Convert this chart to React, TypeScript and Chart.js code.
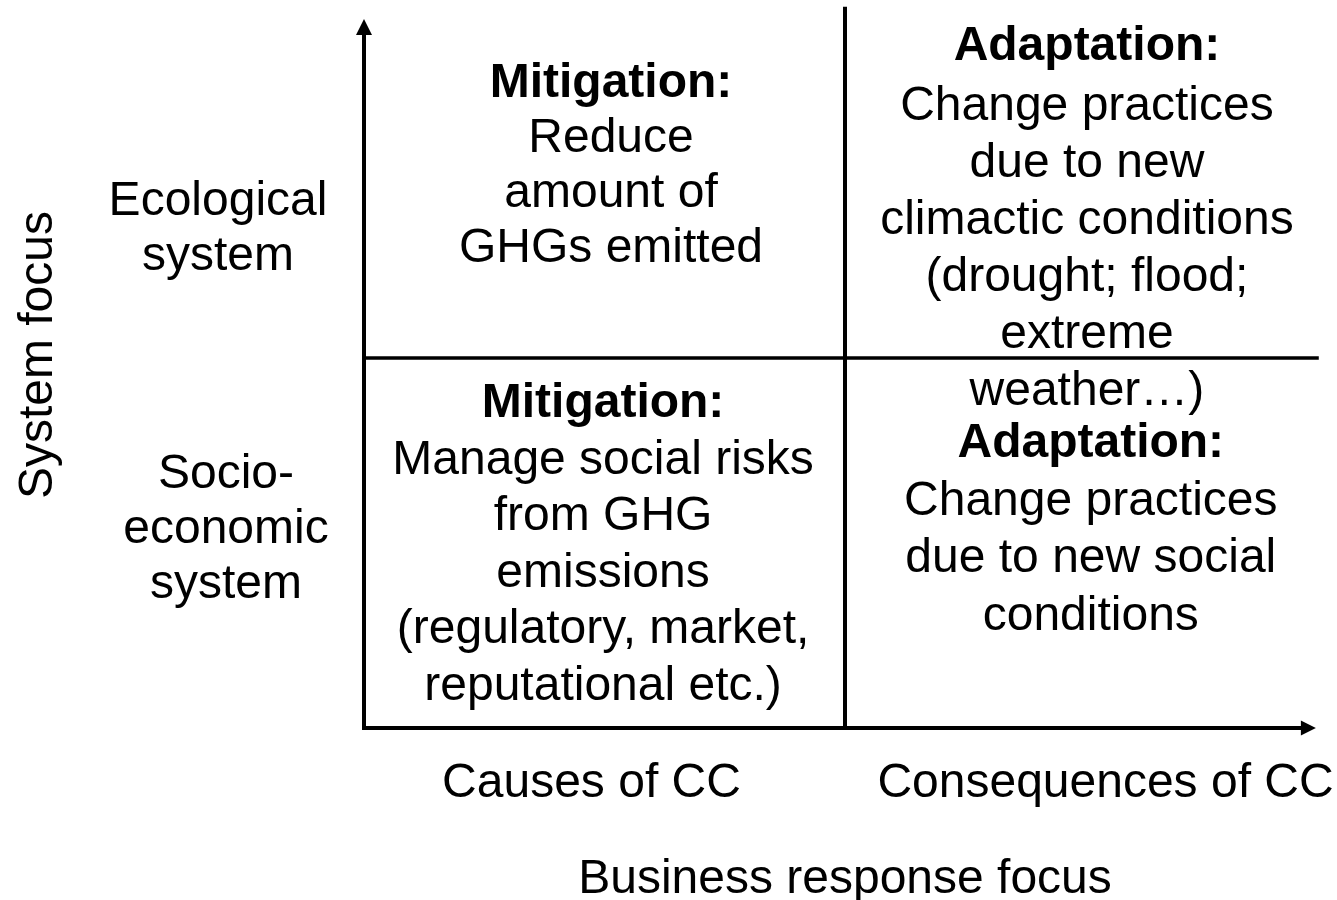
import React, { useEffect, useRef } from "react";
import { Chart, registerables } from "chart.js";

Chart.register(...registerables);

const W = 1337;
const H = 900;

// ---- content ----
const xCategories = ["Causes of CC", "Consequences of CC"];
const yCategories = [
  ["Ecological", "system"],
  ["Socio-", "economic", "system"],
];
const quadrantTitles = ["Mitigation:", "Adaptation:", "Mitigation:", "Adaptation:"];
const quadrantTopLeft = ["Reduce", "amount of", "GHGs emitted"];
const quadrantTopRight = [
  "Change practices",
  "due to new",
  "climactic conditions",
  "(drought; flood;",
  "extreme",
  "weather\u2026)",
];
const quadrantBottomLeft = [
  "Manage social risks",
  "from GHG",
  "emissions",
  "(regulatory, market,",
  "reputational etc.)",
];
const quadrantBottomRight = ["Change practices", "due to new social", "conditions"];
const quadrantBodies = [quadrantTopLeft, quadrantTopRight, quadrantBottomLeft, quadrantBottomRight];
const xAxisTitle = "Business response focus";
const yAxisTitle = "System focus";

// ---- structure (data units: x 0..2 response focus, y 0..2 system focus) ----
const axisPath = [
  { x: 0, y: 1.873 },
  { x: 0, y: 0 },
  { x: 1.95, y: 0 },
];
const verticalDivider = [
  { x: 1, y: 0 },
  { x: 1, y: 1.949 },
];
const horizontalDivider = [
  { x: 0, y: 1 },
  { x: 1.985, y: 1 },
];
const arrowTips = [
  { x: 0, y: 1.916, dir: "up" },
  { x: 1.979, y: 0, dir: "right" },
];

// ---- layout (anchors in data units: first-line baseline; gap = title-to-body px) ----
const quadrantAnchors = [
  { x: 0.5135, y: 1.705, gap: 55, lh: 55 },
  { x: 1.503, y: 1.805, gap: 60, lh: 57 },
  { x: 0.497, y: 0.8405, gap: 56.6, lh: 56.6 },
  { x: 1.511, y: 0.732, gap: 58, lh: 57.3 },
];
const yCategoryAnchors = [
  { x: -0.3035, y: 1.386, lh: 55 },
  { x: -0.287, y: 0.6486, lh: 55 },
];
const xCategoryAnchors = [
  { x: 0.473, y: -0.1865 },
  { x: 1.5416, y: -0.1865 },
];
const xTitleAnchor = { x: 1.0, y: -0.446 };
const yTitleAnchor = { x: -0.649, y: 1.008 };

const FONT = '"Liberation Sans", Arial, Helvetica, sans-serif';
const FS = 48;

const textPlugin = {
  id: "diagramText",
  afterDatasetsDraw(chart: any) {
    const ctx = chart.ctx as CanvasRenderingContext2D;
    const xs = chart.scales.x;
    const ys = chart.scales.y;
    const px = (v: number) => xs.getPixelForValue(v);
    const py = (v: number) => ys.getPixelForValue(v);

    ctx.save();
    ctx.fillStyle = "#000";
    // arrowheads
    arrowTips.forEach((a) => {
      const tx = px(a.x);
      const ty = py(a.y);
      ctx.beginPath();
      if (a.dir === "up") {
        ctx.moveTo(tx, ty);
        ctx.lineTo(tx - 8, ty + 16);
        ctx.lineTo(tx + 8, ty + 16);
      } else {
        ctx.moveTo(tx, ty);
        ctx.lineTo(tx - 15, ty - 7.5);
        ctx.lineTo(tx - 15, ty + 7.5);
      }
      ctx.closePath();
      ctx.fill();
    });

    ctx.textAlign = "center";
    ctx.textBaseline = "alphabetic";

    // quadrants
    quadrantAnchors.forEach((a, i) => {
      const cx = px(a.x);
      let by = py(a.y);
      ctx.font = `bold ${FS}px ${FONT}`;
      ctx.fillText(quadrantTitles[i], cx, by);
      ctx.font = `${FS}px ${FONT}`;
      quadrantBodies[i].forEach((line, j) => {
        by += j === 0 ? a.gap : a.lh;
        ctx.fillText(line, cx, by);
      });
    });

    ctx.font = `${FS}px ${FONT}`;
    yCategoryAnchors.forEach((a, i) => {
      const cx = px(a.x);
      const by = py(a.y);
      yCategories[i].forEach((line, j) => ctx.fillText(line, cx, by + j * a.lh));
    });
    xCategoryAnchors.forEach((a, i) => {
      ctx.fillText(xCategories[i], px(a.x), py(a.y));
    });
    ctx.fillText(xAxisTitle, px(xTitleAnchor.x), py(xTitleAnchor.y));

    ctx.save();
    ctx.translate(px(yTitleAnchor.x), py(yTitleAnchor.y));
    ctx.rotate(-Math.PI / 2);
    ctx.fillText(yAxisTitle, 0, 0);
    ctx.restore();

    ctx.restore();
  },
};

export default function App() {
  const ref = useRef<HTMLCanvasElement | null>(null);

  useEffect(() => {
    if (!ref.current) return;
    const lineDs = (data: any[], width: number) => ({
      type: "line" as const,
      data,
      borderColor: "#000",
      borderWidth: width,
      pointRadius: 0,
      fill: false,
      tension: 0,
      clip: false as any,
      borderJoinStyle: "miter" as const,
      borderCapStyle: "butt" as const,
    });
    const xMax = 2;
    const yMax = 1.95;
    const left = 364;
    const bottom = 728;
    const unitX = 481;
    const unitY = 370;
    const chart = new Chart(ref.current, {
      type: "scatter",
      data: {
        datasets: [
          lineDs(axisPath, 4),
          lineDs(verticalDivider, 4),
          lineDs(horizontalDivider, 3.5),
        ] as any,
      },
      options: {
        animation: false,
        responsive: false,
        maintainAspectRatio: false,
        events: [],
        layout: {
          padding: {
            left,
            right: W - (left + unitX * xMax),
            top: bottom - unitY * yMax,
            bottom: H - bottom,
          },
        },
        plugins: {
          legend: { display: false },
          tooltip: { enabled: false },
          title: { display: false },
        },
        scales: {
          x: { type: "linear", min: 0, max: xMax, display: false },
          y: { type: "linear", min: 0, max: yMax, display: false },
        },
      },
      plugins: [textPlugin],
    });
    return () => chart.destroy();
  }, []);

  return (
    <div style={{ position: "fixed", left: 0, top: 0, width: W, height: H, background: "#fff" }}>
      <canvas ref={ref} width={W} height={H} style={{ width: W, height: H, display: "block" }} />
    </div>
  );
}
